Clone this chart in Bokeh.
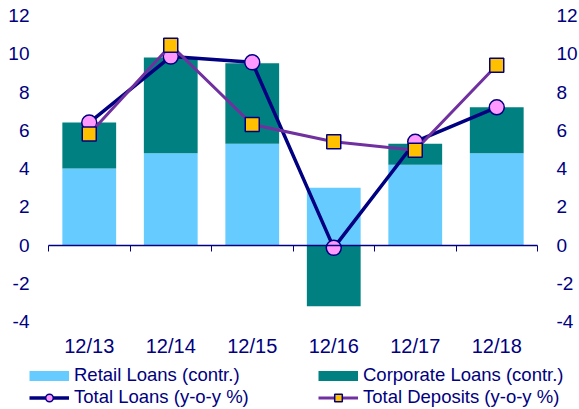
from bokeh.plotting import figure
from bokeh.models import (ColumnDataSource, LinearAxis, FixedTicker, Legend,
                          LegendItem, Range1d)
from bokeh.embed import file_html
from bokeh.resources import INLINE

# ---- data ----
categories = ["12/13", "12/14", "12/15", "12/16", "12/17", "12/18"]
retail = [4.0, 4.8, 5.3, 3.0, 4.2, 4.8]
corporate = [2.4, 5.0, 4.2, -3.2, 1.1, 2.4]
total_loans = [6.4, 9.85, 9.55, -0.15, 5.4, 7.2]
total_deposits = [5.8, 10.45, 6.3, 5.4, 4.95, 9.4]
y_ticks = [-4, -2, 0, 2, 4, 6, 8, 10, 12]
series_labels = ["Retail Loans (contr.)", "Corporate Loans (contr.)",
                 "Total Loans (y-o-y %)", "Total Deposits (y-o-y %)"]

# ---- styles / layout (pixels) ----
NAVY = "#000080"
RETAIL_C = "#66CCFF"
CORP_C = "#008080"
LOANS_FILL = "#FF99FF"
DEP_LINE = "#7030A0"
DEP_FILL = "#FFC000"
FONT = "Liberation Sans"

W, H = 579, 409
PLOT_L, PLOT_R, PLOT_T, PLOT_B = 48, 537, 15, 321

n = len(categories)
ymin, ymax = y_ticks[0], y_ticks[-1]
ppx = (PLOT_R - PLOT_L) / n
ppy = (PLOT_B - PLOT_T) / (ymax - ymin)
x_range = Range1d(-PLOT_L / ppx, n + (W - PLOT_R) / ppx)
y_range = Range1d(ymin - (H - PLOT_B) / ppy, ymax + PLOT_T / ppy)

xc = [i + 0.5 for i in range(n)]
corp_bottom = [r if c >= 0 else 0 for r, c in zip(retail, corporate)]
corp_top = [b + c if c >= 0 else c for b, c in zip(corp_bottom, corporate)]

src = ColumnDataSource(dict(x=xc, retail=retail, corp_bottom=corp_bottom,
                            corp_top=corp_top, loans=total_loans,
                            deposits=total_deposits))

p = figure(width=W, height=H, x_range=x_range, y_range=y_range,
           output_backend="svg", toolbar_location=None,
           x_axis_location=None, y_axis_location=None,
           min_border_left=0, min_border_right=0, min_border_top=0, min_border_bottom=0)
p.outline_line_color = None
p.grid.visible = False

# bars
p.vbar(x="x", bottom=0, top="retail", width=0.66, source=src,
       fill_color=RETAIL_C, line_color=None)
p.vbar(x="x", bottom="corp_bottom", top="corp_top", width=0.66, source=src,
       fill_color=CORP_C, line_color=None)

# lines
ll = p.line(x="x", y="loans", source=src, line_color=NAVY, line_width=3.5)
ls = p.scatter(x="x", y="loans", source=src, marker="circle", size=15,
               fill_color=LOANS_FILL, line_color=NAVY, line_width=1.5)
dl = p.line(x="x", y="deposits", source=src, line_color=DEP_LINE, line_width=3)
ds = p.scatter(x="x", y="deposits", source=src, marker="square", size=14,
               fill_color=DEP_FILL, line_color=NAVY, line_width=1.5)

# legend swatches for bars (no data)
nan = [float("nan")]
leg_retail = p.line(x=nan, y=nan, line_color=RETAIL_C, line_width=10)
leg_corp = p.line(x=nan, y=nan, line_color=CORP_C, line_width=10)

def style_axis(ax, fs):
    ax.axis_line_color = None
    ax.major_tick_line_color = None
    ax.minor_tick_line_color = None
    ax.major_tick_out = 0
    ax.major_tick_in = 0
    ax.major_label_text_color = NAVY
    ax.major_label_text_font = FONT
    ax.major_label_text_font_size = fs

tick_text = {t: str(t) for t in y_ticks}

left = LinearAxis(ticker=FixedTicker(ticks=y_ticks), major_label_overrides=tick_text,
                  fixed_location=0)
style_axis(left, "19px")
left.major_label_standoff = 19
p.add_layout(left, "left")

right = LinearAxis(ticker=FixedTicker(ticks=y_ticks), major_label_overrides=tick_text,
                   fixed_location=n)
style_axis(right, "19px")
right.major_label_standoff = 19
p.add_layout(right, "right")

cat_axis = LinearAxis(ticker=FixedTicker(ticks=xc),
                      major_label_overrides={x: c for x, c in zip(xc, categories)},
                      fixed_location=ymin)
style_axis(cat_axis, "20px")
cat_axis.major_label_standoff = 13
p.add_layout(cat_axis, "below")

zero_axis = LinearAxis(ticker=FixedTicker(ticks=list(range(n + 1))), fixed_location=0,
                       bounds=(0, n))
zero_axis.axis_line_color = NAVY
zero_axis.axis_line_width = 1.5
zero_axis.major_tick_line_color = NAVY
zero_axis.major_tick_out = 6
zero_axis.major_tick_in = 0
zero_axis.minor_tick_line_color = None
zero_axis.major_label_text_alpha = 0
zero_axis.major_label_text_font_size = "1px"
p.add_layout(zero_axis, "below")

def make_legend(items, loc):
    lg = Legend(items=items, location=loc, orientation="vertical")
    lg.border_line_color = None
    lg.background_fill_alpha = 0
    lg.padding = 0
    lg.margin = 0
    lg.spacing = 0
    lg.glyph_width = 40
    lg.glyph_height = 19
    lg.label_height = 19
    lg.label_standoff = 5
    lg.label_text_color = NAVY
    lg.label_text_font = FONT
    lg.label_text_font_size = "18.5px"
    return lg

lg1 = make_legend([LegendItem(label=series_labels[0], renderers=[leg_retail]),
                   LegendItem(label=series_labels[2], renderers=[ll, ls])], (29, 1))
lg2 = make_legend([LegendItem(label=series_labels[1], renderers=[leg_corp]),
                   LegendItem(label=series_labels[3], renderers=[dl, ds])], (318, 1))
p.add_layout(lg1, "center")
p.add_layout(lg2, "center")

open("out.html", "w").write(file_html(p, INLINE))
